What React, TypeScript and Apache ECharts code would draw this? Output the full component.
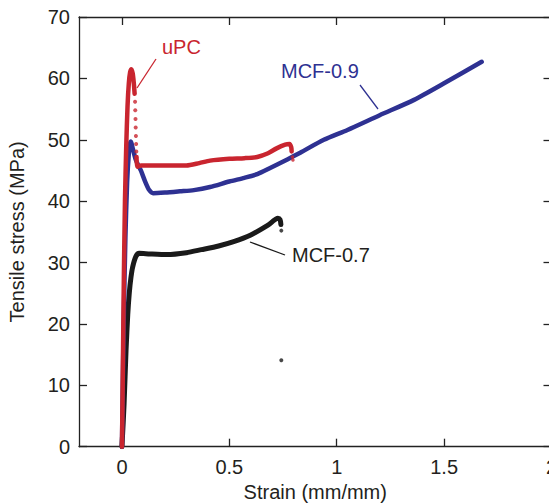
import React, { useEffect, useRef } from "react";
import * as echarts from "echarts";

// Tick values
const xTickValues = [0, 0.5, 1, 1.5, 2];
const yMin = 0;
const yMax = 70;
const yStep = 10;
const xMin = -0.2;
const xMax = 2;

// uPC (red): elastic rise and peak, sparse dotted drop, plateau
const upcRise: [number, number][] = [
  [0, 0], [0.004, 12], [0.009, 28], [0.014, 40], [0.02, 49], [0.026, 55.5],
  [0.032, 59.2], [0.038, 61], [0.044, 61.5], [0.05, 60.8], [0.055, 59.3], [0.059, 57.5],
];
const upcDrop: [number, number][] = [
  [0.061, 56.2], [0.062, 54.8], [0.063, 53.4], [0.064, 52], [0.065, 50.6], [0.066, 49.3], [0.067, 48.1],
];
const upcPlateau: [number, number][] = [
  [0.068, 47.2], [0.07, 45.6], [0.09, 45.8], [0.15, 45.8], [0.22, 45.8], [0.3, 45.8],
  [0.36, 46.2], [0.41, 46.6], [0.5, 46.9], [0.57, 47.0], [0.63, 47.2], [0.68, 47.8],
  [0.72, 48.6], [0.76, 49.2], [0.78, 49.3], [0.788, 48.8], [0.79, 48.1],
];
const upcEndDots: [number, number][] = [[0.794, 47.2], [0.796, 46.7]];

// MCF-0.9 (blue)
const mcf09: [number, number][] = [
  [0, 0], [0.008, 20], [0.016, 34], [0.024, 43], [0.032, 47.8], [0.038, 49.4], [0.042, 49.7],
  [0.05, 48.6], [0.065, 46.7], [0.088, 45.0], [0.108, 43.2], [0.127, 41.8], [0.145, 41.3],
  [0.2, 41.4], [0.27, 41.6], [0.335, 41.8], [0.41, 42.3], [0.5, 43.2], [0.57, 43.8],
  [0.63, 44.4], [0.69, 45.4], [0.77, 46.8], [0.83, 47.9], [0.94, 50.0], [1.05, 51.6],
  [1.2, 54.0], [1.36, 56.5], [1.51, 59.4], [1.675, 62.7],
];

// MCF-0.7 (black)
const mcf07: [number, number][] = [
  [0, 0], [0.01, 7], [0.019, 15.7], [0.027, 21.5], [0.034, 25], [0.042, 27.6], [0.05, 29.3],
  [0.065, 31], [0.08, 31.5], [0.13, 31.4], [0.21, 31.3], [0.3, 31.6], [0.37, 32.1],
  [0.45, 32.7], [0.52, 33.4], [0.6, 34.5], [0.68, 36.1], [0.726, 37.2], [0.736, 37.0], [0.74, 36.2],
];
const mcf07Dots: [number, number][] = [[0.742, 35.2], [0.742, 14.1]];

const RED = "#c9252f";
const BLUE = "#2e3192";
const BLACK = "#1a1a1a";
const TEXT = "#231f20";
const FONT = "'Liberation Sans', Arial, Helvetica, sans-serif";

export default function App() {
  const ref = useRef<HTMLDivElement>(null);

  useEffect(() => {
    if (!ref.current) return;
    const chart = echarts.init(ref.current, undefined, { renderer: "svg" });

    const lineSeries = (name: string, data: [number, number][], color: string, width: number) => ({
      name,
      type: "line",
      data,
      showSymbol: false,
      symbol: "none",
      smooth: 0.25,
      lineStyle: { color, width, cap: "round", join: "round" },
      z: 3,
    });
    const dotSeries = (name: string, data: [number, number][], color: string, size: number) => ({
      name,
      type: "scatter",
      data,
      symbol: "circle",
      symbolSize: size,
      itemStyle: { color },
      z: 3,
    });

    const axisCommon = {
      axisLine: { show: true, onZero: false, lineStyle: { color: "#222", width: 1.3 } },
      splitLine: { show: false },
    };

    chart.setOption({
      animation: false,
      backgroundColor: "#ffffff",
      textStyle: { fontFamily: FONT },
      grid: {
        left: 79,
        top: 17,
        width: 472.5,
        height: 429.7,
        containLabel: false,
        outerBoundsMode: "none",
      },
      xAxis: [
        {
          type: "value",
          min: xMin,
          max: xMax,
          position: "bottom",
          ...axisCommon,
          axisTick: { show: true, inside: true, length: 8, customValues: xTickValues, lineStyle: { color: "#222", width: 1.3 } },
          axisLabel: {
            show: true,
            customValues: xTickValues,
            margin: 10,
            fontSize: 20,
            color: TEXT,
            fontFamily: FONT,
            formatter: (v: number) => String(v),
          },
          name: "Strain (mm/mm)",
          nameLocation: "middle",
          nameGap: 35,
          nameTextStyle: { fontSize: 20, color: TEXT, fontFamily: FONT },
        },
        {
          type: "value",
          min: xMin,
          max: xMax,
          position: "top",
          ...axisCommon,
          axisTick: { show: true, inside: true, length: 8, customValues: xTickValues, lineStyle: { color: "#222", width: 1.3 } },
          axisLabel: { show: false },
        },
      ],
      yAxis: [
        {
          type: "value",
          min: yMin,
          max: yMax,
          interval: yStep,
          position: "left",
          ...axisCommon,
          axisTick: { show: true, inside: true, length: 8, lineStyle: { color: "#222", width: 1.3 } },
          axisLabel: { show: true, margin: 9, fontSize: 20, color: TEXT, fontFamily: FONT },
          name: "Tensile stress (MPa)",
          nameLocation: "middle",
          nameGap: 52,
          nameRotate: 90,
          nameTextStyle: { fontSize: 20, color: TEXT, fontFamily: FONT },
        },
        {
          type: "value",
          min: yMin,
          max: yMax,
          interval: yStep,
          position: "right",
          ...axisCommon,
          axisTick: { show: true, inside: true, length: 8, lineStyle: { color: "#222", width: 1.3 } },
          axisLabel: { show: false },
        },
      ],
      series: [
        lineSeries("MCF-0.7", mcf07, BLACK, 5),
        dotSeries("MCF-0.7 end", mcf07Dots, BLACK, 4),
        lineSeries("MCF-0.9", mcf09, BLUE, 4.5),
        lineSeries("uPC", upcRise, RED, 4.5),
        dotSeries("uPC drop", upcDrop, RED, 4),
        lineSeries("uPC plateau", upcPlateau, RED, 4.5),
        dotSeries("uPC end", upcEndDots, RED, 3.5),
      ],
      graphic: [
        { type: "text", left: 162, top: 37, style: { text: "uPC", fill: RED, font: `20px ${FONT}` } },
        { type: "line", shape: { x1: 156, y1: 59, x2: 137, y2: 88 }, style: { stroke: RED, lineWidth: 1.3 } },
        { type: "text", left: 281, top: 61, style: { text: "MCF-0.9", fill: BLUE, font: `20px ${FONT}` } },
        { type: "line", shape: { x1: 360, y1: 85, x2: 378, y2: 109 }, style: { stroke: BLUE, lineWidth: 1.3 } },
        { type: "text", left: 292, top: 245, style: { text: "MCF-0.7", fill: TEXT, font: `20px ${FONT}` } },
        { type: "line", shape: { x1: 250, y1: 242, x2: 285, y2: 255 }, style: { stroke: BLACK, lineWidth: 1.3 } },
      ],
    });

    return () => chart.dispose();
  }, []);

  return (
    <div
      ref={ref}
      style={{ position: "fixed", left: 0, top: 0, width: 549, height: 504, background: "#fff" }}
    />
  );
}
